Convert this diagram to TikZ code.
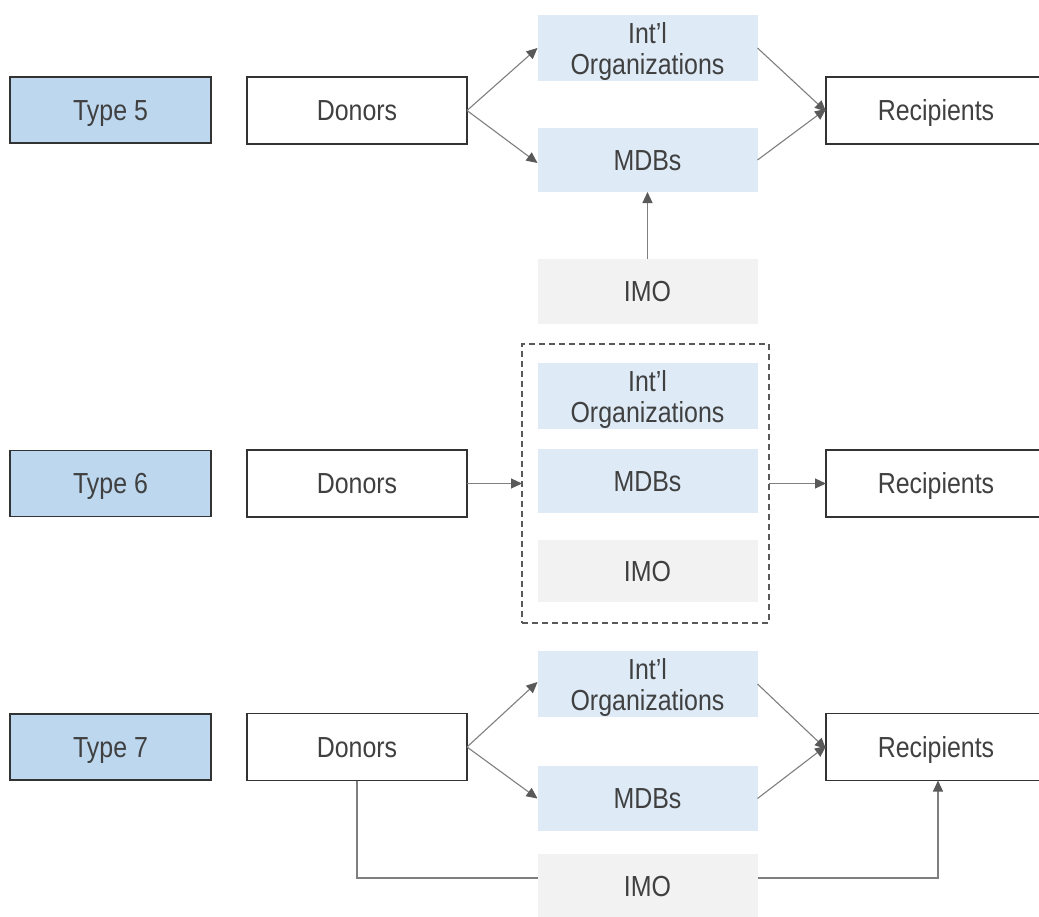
\documentclass[tikz,border=0pt]{standalone}
\usepackage{fontspec}
\setmainfont[FakeStretch=0.86]{Liberation Sans}
\usetikzlibrary{arrows.meta}
\definecolor{typefill}{HTML}{BDD7EE}
\definecolor{orgfill}{HTML}{DEEBF7}
\definecolor{imofill}{HTML}{F2F2F2}
\definecolor{boxline}{HTML}{333333}
\definecolor{txt}{HTML}{404040}
\definecolor{conn}{HTML}{7F7F7F}
\definecolor{tip}{HTML}{595959}
\tikzset{
  base/.style={inner sep=0pt, outer sep=0pt, align=center, text=txt,
    font=\fontsize{29}{31}\selectfont, minimum width=220pt, text depth=0pt},
  one/.style={text height=20.8pt},
  typebox/.style={base, one, fill=typefill, draw=boxline, line width=1.7pt, minimum width=201pt, minimum height=66pt},
  whitebox/.style={base, one, fill=white, draw=boxline, line width=1.7pt, minimum height=67pt},
  orgbox/.style={base, fill=orgfill},
  imobox/.style={base, one, fill=imofill},
  grpbox/.style={inner sep=0pt, outer sep=0pt, draw=tip, line width=1.5pt, dash pattern=on 6pt off 4pt, minimum width=247pt, minimum height=279pt},
  link/.style={draw=conn, line width=1.1pt, -{Triangle[length=11pt,width=10pt,fill=tip,color=tip]}},
  plain/.style={draw=conn, line width=1.1pt}
}
\begin{document}
\begin{tikzpicture}[x=1pt,y=-1pt]
\clip (0,0) rectangle (1039,916);
\fill[white] (0,0) rectangle (1039,916);
% Type 5
\node[typebox] (t5) at (110.5,110) {Type 5};
\node[whitebox] (d5) at (357,110.5) {Donors};
\node[orgbox, minimum height=66pt] (i5) at (647.5,48) {Int’l\\Organizations};
\node[orgbox, one, minimum height=64pt] (m5) at (647.5,160) {MDBs};
\node[imobox, minimum height=65pt] (o5) at (647.5,291) {IMO};
\node[whitebox] (r5) at (936,110.5) {Recipients};
\draw[link] (d5.east) -- (i5.west);
\draw[link] (d5.east) -- ([yshift=-3pt]m5.west);
\draw[link] (i5.east) -- ([yshift=-1pt]r5.west);
\draw[link] (m5.east) -- ([yshift=1.5pt]r5.west);
\draw[link] (o5.north) -- (m5.south);
% Type 6
\node[typebox] (t6) at (110.5,483.5) {Type 6};
\node[whitebox] (d6) at (357,483.5) {Donors};
\node[grpbox] (g6) at (645.5,483.5) {};
\node[orgbox, minimum height=66pt] (i6) at (647.5,396) {Int’l\\Organizations};
\node[orgbox, one, minimum height=64pt] (m6) at (647.5,481) {MDBs};
\node[imobox, minimum height=62pt] (o6) at (647.5,571) {IMO};
\node[whitebox] (r6) at (936,483.5) {Recipients};
\draw[link] (d6.east) -- (g6.west);
\draw[link] (g6.east) -- (r6.west);
% Type 7
\node[typebox] (t7) at (110.5,747) {Type 7};
\node[whitebox] (d7) at (357,747) {Donors};
\node[orgbox, minimum height=66pt] (i7) at (647.5,684) {Int’l\\Organizations};
\node[orgbox, one, minimum height=65pt] (m7) at (647.5,798.5) {MDBs};
\node[imobox, minimum height=64pt] (o7) at (647.5,886) {IMO};
\node[whitebox] (r7) at (936,747) {Recipients};
\coordinate (rb7) at (938,780.5);
\draw[link] (d7.east) -- ([yshift=2pt]i7.west);
\draw[link] (d7.east) -- (m7.west);
\draw[link] (i7.east) -- ([yshift=-2pt]r7.west);
\draw[link] (m7.east) -- ([yshift=1pt]r7.west);
\draw[plain] (d7.south) |- ([yshift=8pt]o7.west);
\draw[link] ([yshift=8pt]o7.east) -| (rb7);
\end{tikzpicture}
\end{document}
